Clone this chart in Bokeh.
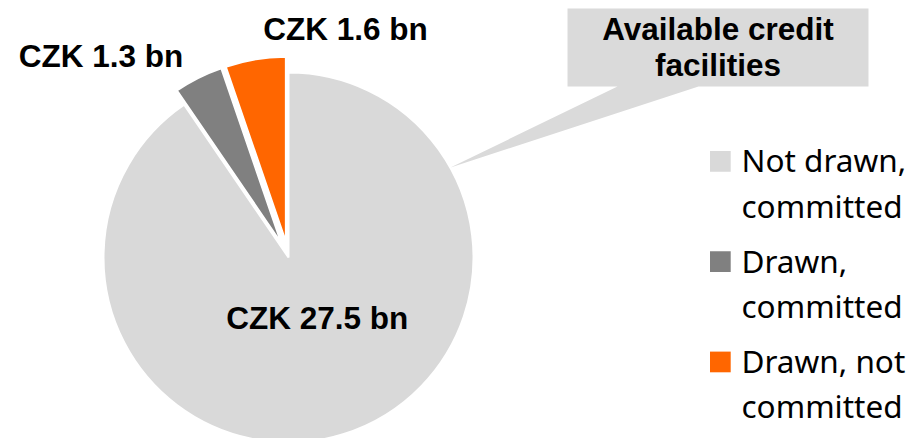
import math
from bokeh.plotting import figure
from bokeh.models import Range1d, ColumnDataSource
from bokeh.core.properties import value
from bokeh.embed import file_html
from bokeh.resources import INLINE

# ---- data ----
categories = ["Not drawn,\ncommitted", "Drawn,\ncommitted", "Drawn, not\ncommitted"]
amounts = [27.5, 1.3, 1.6]           # CZK bn
slice_labels = ["CZK 27.5 bn", "CZK 1.3 bn", "CZK 1.6 bn"]
colors = ["#d9d9d9", "#808080", "#ff6600"]
explode = [0, 16, 16]
callout_text = ["Available credit", "facilities"]

W, H = 914, 438
p = figure(width=W, height=H, output_backend="svg", toolbar_location=None,
           x_range=Range1d(0, W), y_range=Range1d(0, H),
           min_border=0, outline_line_color=None)
p.axis.visible = False
p.grid.visible = False
p.background_fill_color = "white"
p.border_fill_color = "white"

def sy(y):  # screen y -> data y
    return H - y

BOLD_FS = 31.5
LEG_FS = 31.5
# baseline -> middle of em box
def mid_bold(base):
    return sy(base - 0.3465 * BOLD_FS)

def mid_leg(base):
    return sy(base - 0.388 * LEG_FS)

cx, cy, R = 288, sy(257), 185

# draw order counter-clockwise from 12 o'clock: orange, grey, light
order = [2, 1, 0]
total = sum(amounts)
start = math.pi / 2
xs, ys, sa, ea, fc = [], [], [], [], []
for i in order:
    span = amounts[i] / total * 2 * math.pi
    mid = start + span / 2
    xs.append(cx + explode[i] * math.cos(mid))
    ys.append(cy + explode[i] * math.sin(mid))
    sa.append(start)
    ea.append(start + span)
    fc.append(colors[i])
    start += span

src = ColumnDataSource(dict(x=xs, y=ys, sa=sa, ea=ea, c=fc))
p.wedge(x="x", y="y", radius=R, start_angle="sa", end_angle="ea",
        direction="anticlock", fill_color="c", line_color="white",
        line_width=2, source=src)

# callout
callout_x = [567, 868, 868, 698, 450, 617, 567]
callout_y = [sy(v) for v in [8, 8, 86, 86, 167, 86, 86]]
p.patch(callout_x, callout_y, fill_color="#dadada", line_color=None)
p.text(x=[717.5, 717.5], y=[mid_bold(39.5), mid_bold(75)], text=callout_text,
       text_font=value("Liberation Sans"), text_font_style="bold",
       text_font_size=f"{BOLD_FS}px", text_align="center", text_baseline="middle",
       text_color="black")

# slice labels
lab_x = [316.7, 100.5, 345]
lab_y = [mid_bold(328), mid_bold(66.7), mid_bold(39)]
p.text(x=lab_x, y=lab_y, text=slice_labels,
       text_font=value("Liberation Sans"), text_font_style="bold",
       text_font_size=f"{BOLD_FS}px", text_align="center", text_baseline="middle",
       text_color="black")

# legend
leg_x, leg_top, leg_step, sq = 709.5, 150.5, 100.3, 20.7
line_gap = 45.3
lx, ly, lt = [], [], []
for k, cat in enumerate(categories):
    top = leg_top + k * leg_step
    p.rect(x=[leg_x + sq / 2], y=[sy(top + sq / 2)], width=sq, height=sq,
           fill_color=colors[k], line_color=None)
    for j, line in enumerate(cat.split("\n")):
        lx.append(741)
        ly.append(mid_leg(top + 21.2 + j * line_gap))
        lt.append(line)
p.text(x=lx, y=ly, text=lt, text_font=value("Noto Sans"),
       text_font_size=f"{LEG_FS}px", text_align="left", text_baseline="middle",
       text_color="black")

open("out.html", "w").write(file_html(p, INLINE))
